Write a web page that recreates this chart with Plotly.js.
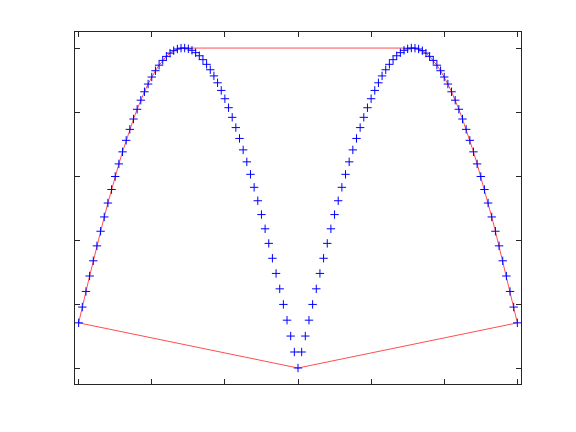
<!DOCTYPE html>
<html>
<head>
<meta charset="utf-8">
<script src="https://cdn.plot.ly/plotly-3.0.1.min.js"></script>
<style>html,body{margin:0;padding:0;background:#fff;}#plot{width:576px;height:432px;}</style>
</head>
<body>
<div id="plot"></div>
<script>
var xs = [-3,-2.95,-2.9,-2.85,-2.8,-2.75,-2.7,-2.65,-2.6,-2.55,-2.5,-2.45,-2.4,-2.35,-2.3,-2.25,-2.2,-2.15,-2.1,-2.05,-2,-1.95,-1.9,-1.85,-1.8,-1.75,-1.7,-1.65,-1.6,-1.55,-1.5,-1.45,-1.4,-1.35,-1.3,-1.25,-1.2,-1.15,-1.1,-1.05,-1,-0.95,-0.9,-0.85,-0.8,-0.75,-0.7,-0.65,-0.6,-0.55,-0.5,-0.45,-0.4,-0.35,-0.3,-0.25,-0.2,-0.15,-0.1,-0.05,0,0.05,0.1,0.15,0.2,0.25,0.3,0.35,0.4,0.45,0.5,0.55,0.6,0.65,0.7,0.75,0.8,0.85,0.9,0.95,1,1.05,1.1,1.15,1.2,1.25,1.3,1.35,1.4,1.45,1.5,1.55,1.6,1.65,1.7,1.75,1.8,1.85,1.9,1.95,2,2.05,2.1,2.15,2.2,2.25,2.3,2.35,2.4,2.45,2.5,2.55,2.6,2.65,2.7,2.75,2.8,2.85,2.9,2.95,3];
var ys = [0.14112,0.19042,0.23925,0.28748,0.33499,0.38166,0.42738,0.47203,0.51550,0.55768,0.59847,0.63776,0.67546,0.71147,0.74571,0.77807,0.80850,0.83690,0.86321,0.88736,0.90930,0.92896,0.94630,0.96128,0.97385,0.98399,0.99166,0.99687,0.99957,0.99978,0.99749,0.99271,0.98545,0.97572,0.96356,0.94898,0.93204,0.91276,0.89121,0.86742,0.84147,0.81342,0.78333,0.75128,0.71736,0.68164,0.64422,0.60519,0.56464,0.52269,0.47943,0.43497,0.38942,0.34290,0.29552,0.24740,0.19867,0.14944,0.09983,0.04998,
0,
0.04998,0.09983,0.14944,0.19867,0.24740,0.29552,0.34290,0.38942,0.43497,0.47943,0.52269,0.56464,0.60519,0.64422,0.68164,0.71736,0.75128,0.78333,0.81342,0.84147,0.86742,0.89121,0.91276,0.93204,0.94898,0.96356,0.97572,0.98545,0.99271,0.99749,0.99978,0.99957,0.99687,0.99166,0.98399,0.97385,0.96128,0.94630,0.92896,0.90930,0.88736,0.86321,0.83690,0.80850,0.77807,0.74571,0.71147,0.67546,0.63776,0.59847,0.55768,0.51550,0.47203,0.42738,0.38166,0.33499,0.28748,0.23925,0.19042,0.14112];
var xTicks = [-3,-2,-1,0,1,2,3];
var yTicks = [0,0.2,0.4,0.6,0.8,1];

// convex hull (monotone chain) of the data points
function hull(px, py) {
  var pts = px.map(function(v,i){return [v, py[i]];});
  pts.sort(function(a,b){return a[0]-b[0] || a[1]-b[1];});
  function cross(o,a,b){return (a[0]-o[0])*(b[1]-o[1])-(a[1]-o[1])*(b[0]-o[0]);}
  var lower=[], upper=[];
  pts.forEach(function(p){
    while(lower.length>=2 && cross(lower[lower.length-2],lower[lower.length-1],p)<=0) lower.pop();
    lower.push(p);
  });
  for (var i=pts.length-1;i>=0;i--){
    var p=pts[i];
    while(upper.length>=2 && cross(upper[upper.length-2],upper[upper.length-1],p)<=0) upper.pop();
    upper.push(p);
  }
  upper.pop(); lower.pop();
  var h = lower.concat(upper);
  h.push(h[0]);
  return h;
}
var h = hull(xs, ys);

var traces = [
  {x: h.map(function(p){return p[0];}), y: h.map(function(p){return p[1];}),
   mode: 'lines', type: 'scatter', line: {color: 'rgb(255,0,0)', width: 0.7}, hoverinfo: 'skip'},
  {x: xs, y: ys, mode: 'markers', type: 'scatter',
   marker: {symbol: 'cross-thin-open', size: 6, color: 'rgb(0,0,255)', line: {color: 'rgb(0,0,255)', width: 1}}}
];
var axisCommon = {showgrid: false, zeroline: false, showline: true, linecolor: '#262626', linewidth: 1,
  mirror: 'ticks', ticks: 'inside', ticklen: 5, tickwidth: 1, tickcolor: '#262626', showticklabels: false};
var layout = {
  width: 576, height: 432, showlegend: false,
  paper_bgcolor: '#ffffff', plot_bgcolor: '#ffffff',
  margin: {l: 75, r: 55, t: 32, b: 48},
  xaxis: Object.assign({range: [-3.05, 3.05], tickmode: 'array', tickvals: xTicks}, axisCommon),
  yaxis: Object.assign({range: [-0.05, 1.05], tickmode: 'array', tickvals: yTicks}, axisCommon)
};
Plotly.newPlot('plot', traces, layout, {displayModeBar: false, staticPlot: true});
</script>
</body>
</html>
